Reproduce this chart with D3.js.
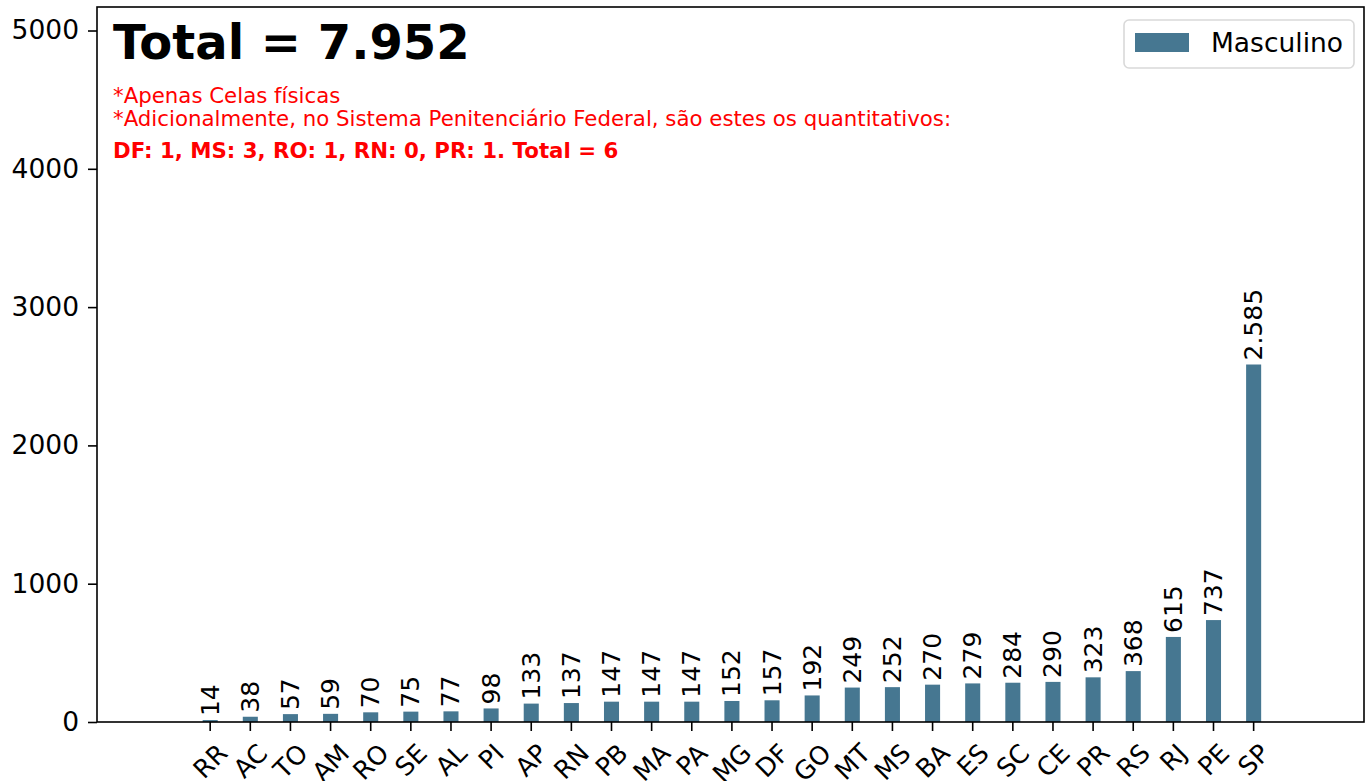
<!DOCTYPE html>
<html>
<head>
<meta charset="utf-8">
<script src="https://cdn.jsdelivr.net/npm/d3@7"></script>
<style>
  html, body { margin: 0; padding: 0; background: #fff; }
  svg { display: block; font-family: "DejaVu Sans", sans-serif; }
</style>
</head>
<body>
<svg id="chart" width="1368" height="781"></svg>
<script>
// Estados (UF) and number of physical cells, male units
const states = ["RR","AC","TO","AM","RO","SE","AL","PI","AP","RN","PB","MA","PA","MG","DF","GO","MT","MS","BA","ES","SC","CE","PR","RS","RJ","PE","SP"];
const masculino = [14,38,57,59,70,75,77,98,133,137,147,147,147,152,157,192,249,252,270,279,284,290,323,368,615,737,2585];
const yTicks = [0,1000,2000,3000,4000,5000];
const seriesName = "Masculino";
const titleText = "Total = 7.952";
const noteLines = [
  "*Apenas Celas físicas",
  "*Adicionalmente, no Sistema Penitenciário Federal, são estes os quantitativos:"
];
const federalLine = "DF: 1, MS: 3, RO: 1, RN: 0, PR: 1. Total = 6";

const barColor = "#467791";
const svg = d3.select("#chart");
const plot = { left: 97, right: 1364, top: 7, bottom: 722 };

const fmt = d3.formatLocale({ decimal: ",", thousands: ".", grouping: [3], currency: ["R$", ""] }).format(",d");

const x = d3.scaleLinear().domain([-2.82, 28.75]).range([plot.left, plot.right]);
const y = d3.scaleLinear().domain([0, d3.max(masculino) * 2]).range([plot.bottom, plot.top]);
const barW = x(0.375) - x(0);

// bars
svg.append("g").selectAll("rect").data(masculino).join("rect")
  .attr("x", (d, i) => x(i) - barW / 2)
  .attr("y", d => y(d))
  .attr("width", barW)
  .attr("height", d => y(0) - y(d))
  .attr("fill", barColor);

// value labels, vertical
svg.append("g").selectAll("text").data(masculino).join("text")
  .attr("transform", (d, i) => `translate(${x(i)},${y(d) - 4}) rotate(-90)`)
  .attr("dominant-baseline", "central")
  .attr("text-anchor", "start")
  .attr("font-size", 25)
  .attr("fill", "#000")
  .text(d => fmt(d));

// y axis
const yAxis = svg.append("g").attr("transform", `translate(${plot.left},0)`)
  .call(d3.axisLeft(y).tickValues(yTicks).tickFormat(d3.format("d")).tickSize(9).tickPadding(9));
yAxis.select(".domain").remove();
yAxis.selectAll("line").attr("stroke", "#000").attr("stroke-width", 1.6);
yAxis.selectAll("text").attr("font-size", 26.5).attr("fill", "#000").attr("font-family", "DejaVu Sans");

// x ticks
const xg = svg.append("g");
xg.selectAll("line").data(states).join("line")
  .attr("x1", (d, i) => x(i)).attr("x2", (d, i) => x(i))
  .attr("y1", plot.bottom).attr("y2", plot.bottom + 9)
  .attr("stroke", "#000").attr("stroke-width", 1.6);
const fsX = 25.5;
const xLabels = xg.selectAll("text").data(states).join("text")
  .attr("font-size", fsX)
  .attr("text-anchor", "middle")
  .attr("dominant-baseline", "central")
  .attr("fill", "#000")
  .text(d => d);
xLabels.each(function(d, i) {
  const w = this.getComputedTextLength();
  const h = fsX * 1.05;
  const half = (w + h) / (2 * Math.SQRT2);
  const top = plot.bottom + 9 + 8;
  d3.select(this).attr("transform", `translate(${x(i)},${top + half}) rotate(-45)`);
});

// frame
svg.append("rect")
  .attr("x", plot.left).attr("y", plot.top)
  .attr("width", plot.right - plot.left).attr("height", plot.bottom - plot.top)
  .attr("fill", "none").attr("stroke", "#000").attr("stroke-width", 1.6);

// title and notes
svg.append("text").attr("x", 113).attr("y", 59)
  .attr("font-size", 48).attr("font-weight", "bold").attr("fill", "#000")
  .text(titleText);
svg.append("g").selectAll("text").data(noteLines).join("text")
  .attr("x", 113).attr("y", (d, i) => 103 + i * 22.5)
  .attr("font-size", 21.3).attr("fill", "#ff0000")
  .text(d => d);
svg.append("text").attr("x", 113).attr("y", 158)
  .attr("font-size", 21.3).attr("font-weight", "bold").attr("fill", "#ff0000")
  .text(federalLine);

// legend
const lg = svg.append("g");
lg.append("rect").attr("x", 1124).attr("y", 20).attr("width", 230).attr("height", 48)
  .attr("rx", 5).attr("fill", "#fff").attr("stroke", "#d9d9d9").attr("stroke-width", 1.6);
lg.append("rect").attr("x", 1135).attr("y", 33).attr("width", 54).attr("height", 19).attr("fill", barColor);
lg.append("text").attr("x", 1211).attr("y", 52).attr("font-size", 26.5).attr("fill", "#000").text(seriesName);
</script>
</body>
</html>
